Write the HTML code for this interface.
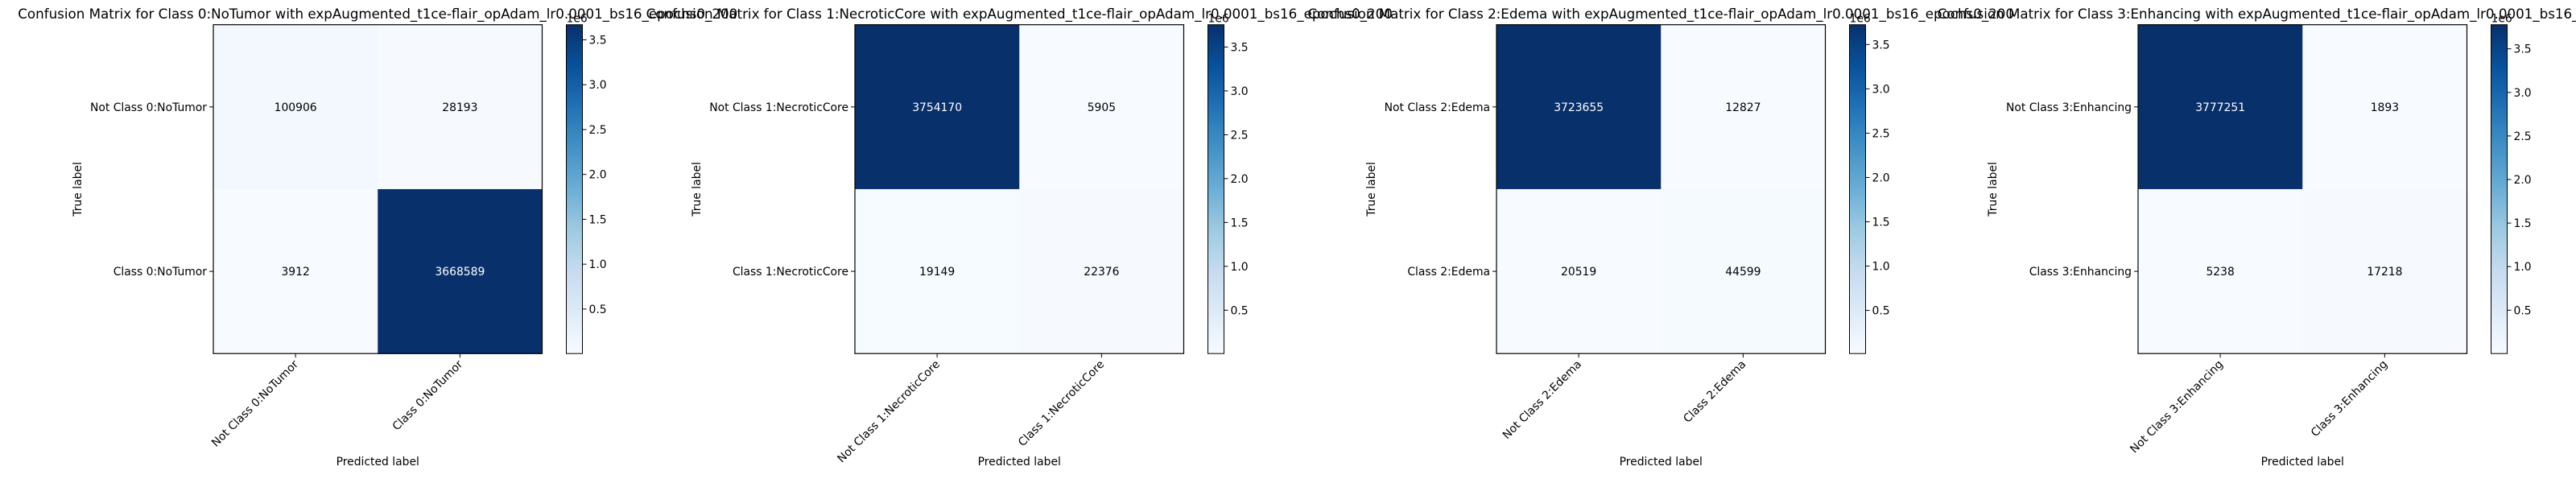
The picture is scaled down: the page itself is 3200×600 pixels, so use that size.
<!DOCTYPE html>
<html><head><meta charset="utf-8">
<style>
html,body{margin:0;padding:0;background:#fff;}
svg{display:block;font-family:"DejaVu Sans","Liberation Sans",sans-serif;}
</style></head>
<body>
<svg id="fig" width="3200" height="600" viewBox="0 0 3200 600" xmlns="http://www.w3.org/2000/svg"></svg>
<script>
const classNames = ["Class 0:NoTumor","Class 1:NecroticCore","Class 2:Edema","Class 3:Enhancing"];
const matrix0 = [[100906, 28193],[3912, 3668589]];
const matrix1 = [[3754170, 5905],[19149, 22376]];
const matrix2 = [[3723655, 12827],[20519, 44599]];
const matrix3 = [[3777251, 1893],[5238, 17218]];
const matrices = [matrix0, matrix1, matrix2, matrix3];
const cbTicks = [0.5, 1.0, 1.5, 2.0, 2.5, 3.0, 3.5];
const expName = "expAugmented_t1ce-flair_opAdam_lr0.0001_bs16_epochs0_200";

// layout (not data)
const plotLefts = [265, 1062, 1859, 2656];
const ylabelX = [96, 865, 1703, 2475];
const plotTop = 30.7, plotSize = 408.5;
const cbGap = 30, cbW = 20;

const NS = "http://www.w3.org/2000/svg";
const svg = document.getElementById('fig');
function mk(tag, attrs, parent){const e=document.createElementNS(NS,tag);for(const k in attrs)e.setAttribute(k,attrs[k]);(parent||svg).appendChild(e);return e;}

const blues = ["#f7fbff","#deebf7","#c6dbef","#9ecae1","#6baed6","#4292c6","#2171b5","#08519c","#08306b"];
function hex(h){return [1,3,5].map(i=>parseInt(h.substr(i,2),16));}
function cmap(t){t=Math.max(0,Math.min(1,t));const p=t*(blues.length-1);const i=Math.min(Math.floor(p),blues.length-2);const f=p-i;const a=hex(blues[i]),b=hex(blues[i+1]);return "rgb("+a.map((v,k)=>Math.round(v+(b[k]-v)*f)).join(",")+")";}

const defs = mk('defs',{});
matrices.forEach((m,pi)=>{
  const L = plotLefts[pi], T = plotTop, S = plotSize, cell = S/2;
  const flat = m.flat(); const vmin = Math.min(...flat), vmax = Math.max(...flat);
  const g = mk('g',{});
  
  
  const cls = classNames[pi]; const labels = ["Not "+cls, cls];
  const xScale = j => L + cell*(j+0.5);
  const yScale = i => T + cell*(i+0.5);
  // cells
  m.forEach((row,i)=>row.forEach((v,j)=>{
    const r = mk('rect',{x:L+cell*j,y:T+cell*i,width:cell+0.5,height:cell+0.5,fill:cmap((v-vmin)/(vmax-vmin))},g);
    
    
    const t = mk('text',{x:xScale(j),y:yScale(i)+5,'text-anchor':'middle','font-size':'13.9',fill:(v>vmax/2)?'#fff':'#000'},g);
    t.textContent = v;
    
    
  }));
  const fr = mk('rect',{x:L,y:T,width:S,height:S,fill:'none',stroke:'#000','stroke-width':1.2},g);
  
  
  // y ticks
  labels.forEach((lab,i)=>{
    mk('line',{x1:L,x2:L-5,y1:yScale(i),y2:yScale(i),stroke:'#000'},g);
    const t = mk('text',{x:L-8,y:yScale(i)+5,'text-anchor':'end','font-size':'13.9'},g);
    t.textContent = lab;
    
    
  });
  // x ticks
  labels.forEach((lab,j)=>{
    const x = xScale(j), y = T+S;
    mk('line',{x1:x,x2:x,y1:y,y2:y+5,stroke:'#000'},g);
    const t = mk('text',{x:0,y:0,'text-anchor':'end','font-size':'13.9',transform:'translate('+(x+4)+','+(y+14)+') rotate(-45)'},g);
    t.textContent = lab;
    
    
  });
  // axis labels
  const xl = mk('text',{x:L+S/2,y:578,'text-anchor':'middle','font-size':'13.9'},g);
  xl.textContent = "Predicted label";
  
  
  const yl = mk('text',{x:0,y:0,'text-anchor':'middle','font-size':'13.9',transform:'translate('+(ylabelX[pi]+5)+','+(T+S/2)+') rotate(-90)'},g);
  yl.textContent = "True label";
  
  
  // title
  const tt = mk('text',{x:L+S/2,y:23,'text-anchor':'middle','font-size':'16.7'},g);
  tt.textContent = "Confusion Matrix for "+cls+" with "+expName;
  
  
  // colorbar
  const cx = L+S+cbGap;
  const grad = mk('linearGradient',{id:'grad'+pi,x1:0,y1:1,x2:0,y2:0},defs);
  for(let k=0;k<=16;k++){mk('stop',{offset:k/16,'stop-color':cmap(k/16)},grad);}
  const cb = mk('rect',{x:cx,y:T,width:cbW,height:S,fill:'url(#grad'+pi+')',stroke:'#000','stroke-width':1},g);
  
  
  const cbScale = v => T + S*(1-(v*1e6-vmin)/(vmax-vmin));
  cbTicks.forEach(tv=>{
    if(tv*1e6<vmin||tv*1e6>vmax) return;
    const y = cbScale(tv);
    mk('line',{x1:cx+cbW,x2:cx+cbW+5,y1:y,y2:y,stroke:'#000'},g);
    const t = mk('text',{x:cx+cbW+8,y:y+5,'font-size':'13.9'},g);
    t.textContent = tv.toFixed(1);
    
    
  });
  const e6 = mk('text',{x:cx,y:T-3,'font-size':'13.9'},g);
  e6.textContent = "1e6";
  
  
});
</script>
</body></html>
